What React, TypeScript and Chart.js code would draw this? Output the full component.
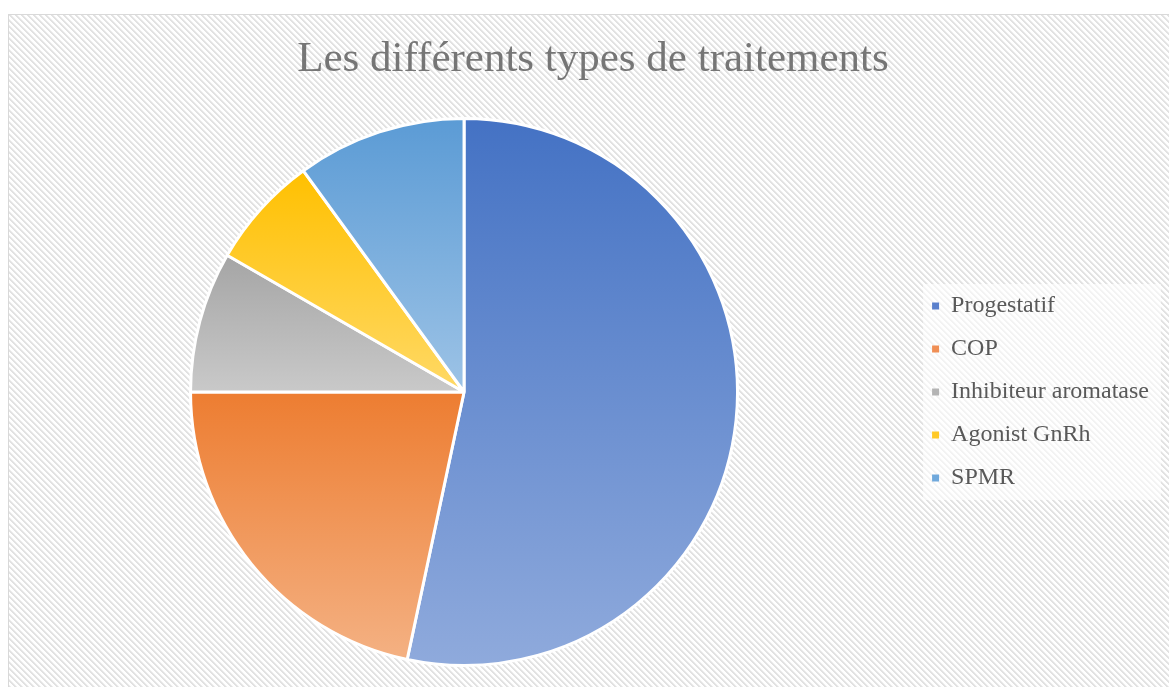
import { useEffect, useRef } from "react";
import { Chart, registerables } from "chart.js";

Chart.register(...registerables);

const categories = ["Progestatif", "COP", "Inhibiteur aromatase", "Agonist GnRh", "SPMR"];
const counts = [32, 13, 5, 4, 6];
const topColors = ["#4472C4", "#ED7D31", "#A5A5A5", "#FFC000", "#5B9BD5"];
const bottomColors = ["#8FAADC", "#F4B183", "#C9C9C9", "#FFD966", "#9DC3E6"];
const legendColors = ["#5A80CC", "#F08F55", "#B4B4B4", "#FFC926", "#70A9DC"];
const chartTitle = "Les différents types de traitements";

const SERIF = "'Liberation Serif', 'Times New Roman', serif";
const BORDER = 3;

function sliceGradient(context: any) {
  const chart = context.chart;
  const i = context.dataIndex;
  const area = chart.chartArea;
  if (i == null) return topColors[0];
  if (!area) return topColors[i];
  const cy = (area.top + area.bottom) / 2;
  const r = Math.max((Math.min(area.right - area.left, area.bottom - area.top) - BORDER) / 2, 1);
  const total = counts.reduce((a, b) => a + b, 0);
  let before = 0;
  for (let k = 0; k < i; k++) before += counts[k];
  const a0 = -Math.PI / 2 + (before / total) * 2 * Math.PI;
  const a1 = a0 + (counts[i] / total) * 2 * Math.PI;
  let minY = Math.min(cy, cy + r * Math.sin(a0), cy + r * Math.sin(a1));
  let maxY = Math.max(cy, cy + r * Math.sin(a0), cy + r * Math.sin(a1));
  for (let n = -1; n <= 2; n++) {
    const up = -Math.PI / 2 + 2 * Math.PI * n;
    if (up >= a0 - 1e-9 && up <= a1 + 1e-9) minY = cy - r;
    const down = Math.PI / 2 + 2 * Math.PI * n;
    if (down >= a0 - 1e-9 && down <= a1 + 1e-9) maxY = cy + r;
  }
  const g = chart.ctx.createLinearGradient(0, minY, 0, maxY);
  g.addColorStop(0, topColors[i]);
  g.addColorStop(1, bottomColors[i]);
  return g;
}

function makeHatchTile() {
  const size = 6;
  const tile = document.createElement("canvas");
  tile.width = size;
  tile.height = size;
  const t = tile.getContext("2d")!;
  t.fillStyle = "#ffffff";
  t.fillRect(0, 0, size, size);
  for (let y = 0; y < size; y++) {
    for (let x = 0; x < size; x++) {
      const m = (((x - y) % size) + size) % size;
      if (m === 0 || m === 1) {
        t.fillStyle = "#e2e2e2";
        t.fillRect(x, y, 1, 1);
      } else if (m === 2) {
        t.fillStyle = "#efefef";
        t.fillRect(x, y, 1, 1);
      }
    }
  }
  return tile;
}

const backgroundPlugin = {
  id: "hatchBackground",
  beforeDraw(chart: any) {
    const ctx = chart.ctx;
    ctx.save();
    const pattern = ctx.createPattern(makeHatchTile(), "repeat");
    ctx.fillStyle = pattern || "#ffffff";
    ctx.fillRect(0, 0, chart.width, chart.height);
    const lg = chart.legend;
    const area = chart.chartArea;
    if (lg && area) {
      const cy = (area.top + area.bottom) / 2;
      ctx.fillStyle = "rgba(255,255,255,0.6)";
      ctx.fillRect(lg.left + 10, cy - 108, lg.right - lg.left - 8, 216);
    }
    ctx.restore();
  },
  afterLayout(chart: any) {
    const t = chart.titleBlock;
    if (t) {
      t.left = 0;
      t.right = chart.width;
      t.width = chart.width;
    }
  },
};

export default function App() {
  const ref = useRef<HTMLCanvasElement | null>(null);

  useEffect(() => {
    if (!ref.current) return;
    const chart = new Chart(ref.current, {
      type: "pie",
      data: {
        labels: categories,
        datasets: [
          {
            data: counts,
            backgroundColor: sliceGradient as any,
            borderColor: "#ffffff",
            borderWidth: BORDER,
          },
        ],
      },
      options: {
        responsive: false,
        animation: false,
        events: [],
        layout: { padding: { left: 6, right: 18, top: 0, bottom: 28 } },
        plugins: {
          title: {
            display: true,
            text: chartTitle,
            color: "#767676",
            font: { family: SERIF, size: 43, weight: "normal" },
            padding: { top: 19, bottom: 31.4 },
          },
          legend: {
            position: "right",
            fullSize: false,
            labels: {
              boxWidth: 7,
              boxHeight: 7,
              padding: 19,
              color: "#595959",
              font: { family: SERIF, size: 24 },
              generateLabels: () =>
                categories.map((c, i) => ({
                  text: c,
                  fillStyle: legendColors[i],
                  strokeStyle: legendColors[i],
                  lineWidth: 0,
                  hidden: false,
                  index: i,
                  fontColor: "#595959",
                })),
            },
          },
          tooltip: { enabled: false },
        },
      },
      plugins: [backgroundPlugin],
    });
    return () => chart.destroy();
  }, []);

  return (
    <div
      style={{
        position: "fixed",
        left: 8,
        top: 14,
        width: 1168,
        height: 680,
        border: "1px solid #d9d9d9",
        background: "#ffffff",
      }}
    >
      <canvas ref={ref} width={1168} height={680} style={{ display: "block" }} />
    </div>
  );
}
